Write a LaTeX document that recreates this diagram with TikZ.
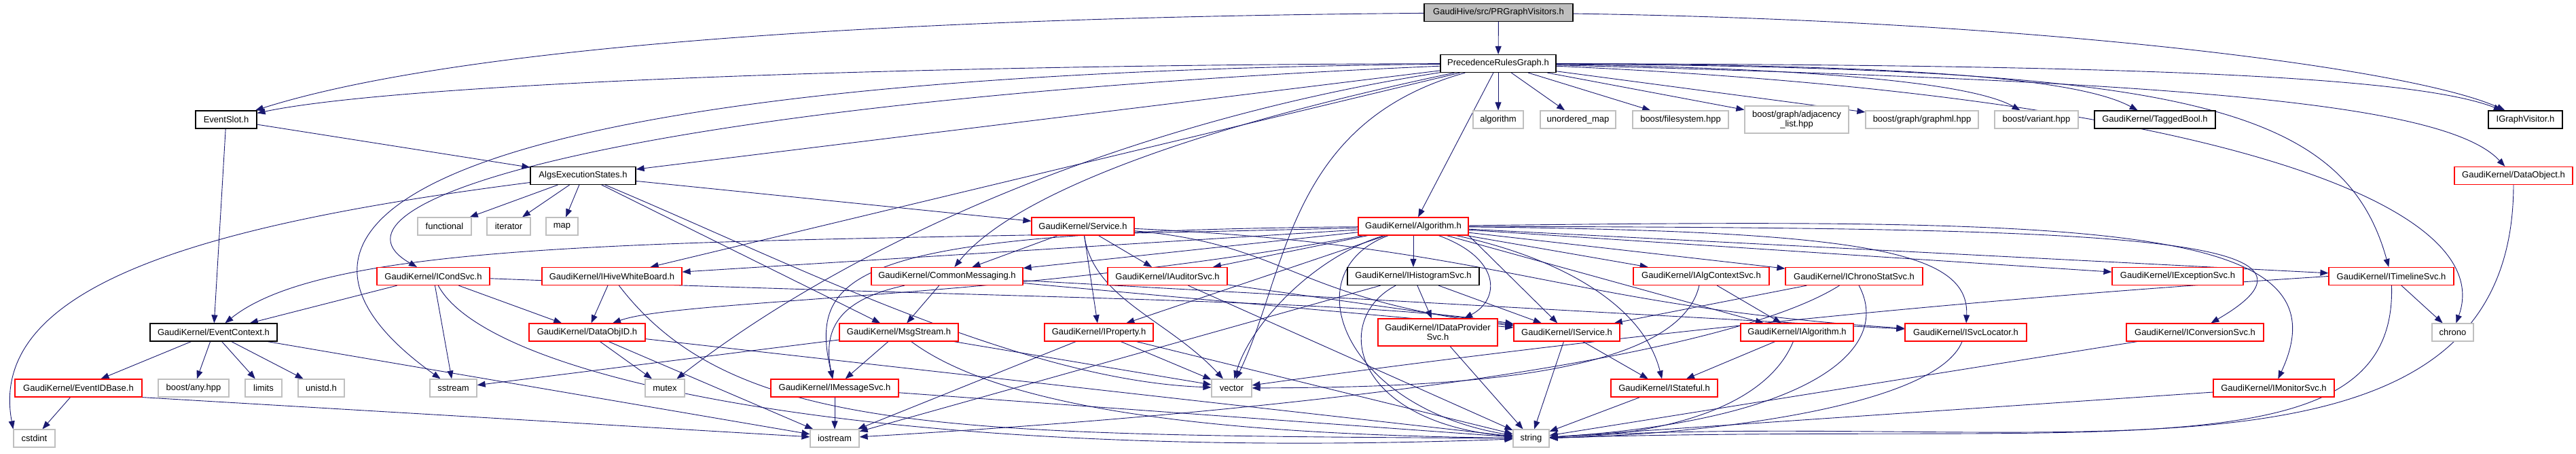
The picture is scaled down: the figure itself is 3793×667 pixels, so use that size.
\documentclass[tikz,border=0pt]{standalone}
\usepackage{fontspec}
\usepackage{tikz}
\usetikzlibrary{arrows.meta}
\newfontfamily\hdrfont{Liberation Sans}
\definecolor{edgeblue}{RGB}{25,25,112}
\definecolor{boxgray}{RGB}{191,191,191}
\pgfdeclarelayer{edges}
\pgfsetlayers{edges,main}

\begin{document}
\begin{tikzpicture}[x=1pt,y=1pt,
    inc/.style={draw=black,line width=1.2pt,fill=white,minimum height=26,inner xsep=2pt,inner ysep=1pt,
      font=\hdrfont\fontsize{13}{14}\selectfont,align=center},
    incred/.style={inc,draw=red},
    sys/.style={inc,draw=boxgray},
    rootinc/.style={inc,fill=boxgray},
    dep/.style={draw=edgeblue,line width=0.9pt,-{Triangle[length=12pt,width=9pt]}}]
  \useasboundingbox (0,0) rectangle (3793,-667);
  \node[rootinc,minimum width=219] (prgv) at (2206.5,-18.5) {GaudiHive/src/PRGraphVisitors.h};
  \node[inc,minimum width=170] (prg) at (2206,-93.5) {PrecedenceRulesGraph.h};
  \node[inc,minimum width=90] (evslot) at (333,-176) {EventSlot.h};
  \node[sys,minimum width=74] (algo) at (2206,-176) {algorithm};
  \node[sys,minimum width=111] (umap) at (2323.5,-176) {unordered\_map};
  \node[sys,minimum width=141] (bfs) at (2474.5,-176) {boost/filesystem.hpp};
  \node[sys,minimum width=153,minimum height=40] (badj) at (2645.5,-176) {boost/graph/adjacency\\\_list.hpp};
  \node[sys,minimum width=166] (bgml) at (2830,-176) {boost/graph/graphml.hpp};
  \node[sys,minimum width=123] (bvar) at (2998.5,-176) {boost/variant.hpp};
  \node[inc,minimum width=178] (tbool) at (3173,-176) {GaudiKernel/TaggedBool.h};
  \node[inc,minimum width=109] (igv) at (3718.5,-176) {IGraphVisitor.h};
  \node[inc,minimum width=155] (aes) at (858.5,-258.5) {AlgsExecutionStates.h};
  \node[incred,minimum width=174] (dobj) at (3701,-258.5) {GaudiKernel/DataObject.h};
  \node[sys,minimum width=79] (func) at (654.5,-333) {functional};
  \node[sys,minimum width=64] (iter) at (749,-333) {iterator};
  \node[sys,minimum width=47] (map) at (827.5,-333) {map};
  \node[incred,minimum width=151] (svc) at (1594.5,-333) {GaudiKernel/Service.h};
  \node[incred,minimum width=162] (alg) at (2081,-333) {GaudiKernel/Algorithm.h};
  \node[incred,minimum width=166] (icond) at (638,-406.5) {GaudiKernel/ICondSvc.h};
  \node[incred,minimum width=206] (ihwb) at (901,-406.5) {GaudiKernel/IHiveWhiteBoard.h};
  \node[incred,minimum width=223] (cmsg) at (1394.5,-406.5) {GaudiKernel/CommonMessaging.h};
  \node[incred,minimum width=176] (iaud) at (1719,-406.5) {GaudiKernel/IAuditorSvc.h};
  \node[inc,minimum width=194] (ihist) at (2081,-406.5) {GaudiKernel/IHistogramSvc.h};
  \node[incred,minimum width=200] (iactx) at (2505,-406.5) {GaudiKernel/IAlgContextSvc.h};
  \node[incred,minimum width=202] (ichrono) at (2730,-406.5) {GaudiKernel/IChronoStatSvc.h};
  \node[incred,minimum width=193] (iexc) at (3206.5,-406.5) {GaudiKernel/IExceptionSvc.h};
  \node[incred,minimum width=184] (itl) at (3521,-406.5) {GaudiKernel/ITimelineSvc.h};
  \node[inc,minimum width=187] (evctx) at (314.5,-489) {GaudiKernel/EventContext.h};
  \node[incred,minimum width=171] (doid) at (864.5,-489) {GaudiKernel/DataObjID.h};
  \node[incred,minimum width=175] (msgs) at (1323.5,-489) {GaudiKernel/MsgStream.h};
  \node[incred,minimum width=160] (iprop) at (1618,-489) {GaudiKernel/IProperty.h};
  \node[incred,minimum width=176,minimum height=40] (idp) at (2117,-489) {GaudiKernel/IDataProvider\\Svc.h};
  \node[incred,minimum width=156] (isvc) at (2307,-489) {GaudiKernel/IService.h};
  \node[incred,minimum width=166] (ialg) at (2646,-489) {GaudiKernel/IAlgorithm.h};
  \node[incred,minimum width=179] (isvcl) at (2894.5,-489) {GaudiKernel/ISvcLocator.h};
  \node[incred,minimum width=202] (iconv) at (3232,-489) {GaudiKernel/IConversionSvc.h};
  \node[sys,minimum width=61] (chrono) at (3611.5,-489) {chrono};
  \node[incred,minimum width=187] (eidb) at (115.5,-571) {GaudiKernel/EventIDBase.h};
  \node[sys,minimum width=104] (bany) at (285,-571) {boost/any.hpp};
  \node[sys,minimum width=54] (limits) at (388,-571) {limits};
  \node[sys,minimum width=68] (unistd) at (473,-571) {unistd.h};
  \node[sys,minimum width=69] (sstr) at (667.5,-571) {sstream};
  \node[sys,minimum width=58] (mutex) at (979,-571) {mutex};
  \node[incred,minimum width=188] (imsg) at (1229,-571) {GaudiKernel/IMessageSvc.h};
  \node[sys,minimum width=59] (vector) at (1813.5,-571) {vector};
  \node[incred,minimum width=157] (istate) at (2450.5,-571) {GaudiKernel/IStateful.h};
  \node[incred,minimum width=178] (imon) at (3348,-571) {GaudiKernel/IMonitorSvc.h};
  \node[sys,minimum width=61] (cstdint) at (50.5,-645) {cstdint};
  \node[sys,minimum width=72] (iostr) at (1229,-645) {iostream};
  \node[sys,minimum width=53] (string) at (2254.5,-645) {string};

  \begin{pgfonlayer}{edges}
  \draw[dep] (prgv) -- (prg);
  \draw[dep] (prgv) .. controls (1400,-25) and (700,-60) .. (evslot);
  \draw[dep] (prgv) .. controls (3000,-30) and (3550,-100) .. (igv);
  \draw[dep] (prg) .. controls (1400,-95) and (600,-120) .. (evslot);
  \draw[dep] (prg) -- (aes);
  \draw[dep] (prg) -- (algo);
  \draw[dep] (prg) -- (umap);
  \draw[dep] (prg) -- (bfs);
  \draw[dep] (prg) -- (badj);
  \draw[dep] (prg) -- (bgml);
  \draw[dep] (prg) .. controls (2650,-100) and (2900,-120) .. (bvar);
  \draw[dep] (prg) .. controls (2750,-95) and (3050,-110) .. (tbool);
  \draw[dep] (prg) .. controls (3100,-95) and (3550,-110) .. (igv);
  \draw[dep] (prg) .. controls (3200,-120) and (3600,-150) .. (dobj);
  \draw[dep] (prg) .. controls (3250,-140) and (3680,-300) .. (chrono);
  \draw[dep] (prg) .. controls (3200,-100) and (3450,-150) .. (itl);
  \draw[dep] (prg) -- (alg);
  \draw[dep] (prg) .. controls (900,-150) and (450,-300) .. (icond);
  \draw[dep] (prg) -- (ihwb);
  \draw[dep] (prg) .. controls (1700,-200) and (1480,-300) .. (cmsg);
  \draw[dep] (prg) .. controls (600,-110) and (330,-330) .. (sstr);
  \draw[dep] (prg) .. controls (1896,-180) and (1896,-400) .. (vector);
  \draw[dep] (prg) .. controls (1650,-180) and (1250,-360) .. (mutex);
  \draw[dep] (evslot) -- (aes);
  \draw[dep] (evslot) -- (evctx);
  \draw[dep] (aes) -- (func);
  \draw[dep] (aes) -- (iter);
  \draw[dep] (aes) -- (map);
  \draw[dep] (aes) -- (svc);
  \draw[dep] (aes) -- (msgs);
  \draw[dep] (aes) .. controls (1150,-380) and (1500,-560) .. (vector);
  \draw[dep] (aes) .. controls (300,-330) and (-20,-420) .. (cstdint.north west);
  \draw[dep] (icond) -- (evctx);
  \draw[dep] (icond) -- (doid);
  \draw[dep] (icond) -- (sstr);
  \draw[dep] (icond) .. controls (720,-560) and (1300,-680) .. (string);
  \draw[dep] (icond) .. controls (1500,-440) and (2000,-440) .. (isvc);
  \draw[dep] (ihwb) -- (doid);
  \draw[dep] (ihwb) .. controls (1080,-640) and (1400,-640) .. (string);
  \draw[dep] (alg) .. controls (1100,-360) and (500,-340) .. (evctx);
  \draw[dep] (alg) -- (ihwb);
  \draw[dep] (alg) -- (cmsg);
  \draw[dep] (alg) -- (iaud);
  \draw[dep] (alg) .. controls (1500,-440) and (1000,-440) .. (doid);
  \draw[dep] (alg) .. controls (1250,-340) and (1190,-400) .. (imsg);
  \draw[dep] (alg) -- (iprop);
  \draw[dep] (alg) -- (ihist);
  \draw[dep] (alg) .. controls (2210,-380) and (2210,-440) .. (idp);
  \draw[dep] (alg.south east) -- (isvc);
  \draw[dep] (alg) -- (iactx);
  \draw[dep] (alg) -- (ichrono);
  \draw[dep] (alg) -- (ialg);
  \draw[dep] (alg) .. controls (2750,-340) and (2900,-370) .. (isvcl);
  \draw[dep] (alg) -- (iexc);
  \draw[dep] (alg) -- (itl);
  \draw[dep] (alg) .. controls (3100,-335) and (3480,-345) .. (iconv);
  \draw[dep] (alg) .. controls (3100,-320) and (3460,-330) .. (imon);
  \draw[dep] (alg) .. controls (2300,-380) and (2420,-450) .. (istate);
  \draw[dep] (alg) .. controls (1930,-380) and (1840,-480) .. (vector);
  \draw[dep] (alg) .. controls (1900,-400) and (1980,-600) .. (string);
  \draw[dep] (svc) -- (cmsg);
  \draw[dep] (svc) -- (iaud);
  \draw[dep] (svc) -- (iprop);
  \draw[dep] (svc) .. controls (1900,-360) and (1900,-440) .. (isvc);
  \draw[dep] (svc) .. controls (2200,-360) and (2300,-450) .. (isvcl);
  \draw[dep] (svc) .. controls (1610,-440) and (1720,-470) .. (vector);
  \draw[dep] (cmsg) -- (msgs);
  \draw[dep] (cmsg) .. controls (1240,-440) and (1210,-480) .. (imsg);
  \draw[dep] (cmsg) -- (isvcl);
  \draw[dep] (cmsg) -- (isvc);
  \draw[dep] (msgs) -- (imsg);
  \draw[dep] (msgs) -- (sstr);
  \draw[dep] (msgs) -- (vector);
  \draw[dep] (msgs) .. controls (1500,-620) and (1900,-640) .. (string);
  \draw[dep] (iprop) -- (iostr);
  \draw[dep] (iprop) -- (vector);
  \draw[dep] (iprop) -- (string);
  \draw[dep] (iaud) -- (isvc);
  \draw[dep] (iaud) -- (string);
  \draw[dep] (ihist) -- (idp);
  \draw[dep] (ihist) -- (isvc);
  \draw[dep] (ihist) -- (iostr);
  \draw[dep] (ihist) .. controls (1960,-470) and (1990,-620) .. (string);
  \draw[dep] (iactx) -- (ialg);
  \draw[dep] (iactx) .. controls (2470,-560) and (2100,-570) .. (vector);
  \draw[dep] (ichrono) -- (isvc);
  \draw[dep] (ichrono) .. controls (2550,-520) and (2000,-600) .. (iostr);
  \draw[dep] (ichrono) .. controls (2790,-520) and (2650,-620) .. (string);
  \draw[dep] (itl) -- (chrono);
  \draw[dep] (itl) .. controls (3530,-700) and (3100,-620) .. (string);
  \draw[dep] (itl.west) .. controls (2900,-440) and (2400,-490) .. (vector);
  \draw[dep] (evctx) -- (eidb);
  \draw[dep] (evctx) -- (bany);
  \draw[dep] (evctx) -- (limits);
  \draw[dep] (evctx) -- (unistd);
  \draw[dep] (evctx) -- (iostr);
  \draw[dep] (eidb) -- (cstdint);
  \draw[dep] (eidb.south east) -- (iostr);
  \draw[dep] (doid) -- (mutex);
  \draw[dep] (doid) -- (iostr);
  \draw[dep] (doid) -- (string);
  \draw[dep] (imsg) -- (iostr);
  \draw[dep] (imsg) -- (string);
  \draw[dep] (idp) -- (string);
  \draw[dep] (isvc) -- (istate);
  \draw[dep] (isvc) -- (string);
  \draw[dep] (ialg) -- (istate);
  \draw[dep] (ialg) .. controls (2600,-600) and (2450,-640) .. (string);
  \draw[dep] (istate) -- (string);
  \draw[dep] (isvcl) .. controls (2850,-600) and (2500,-640) .. (string);
  \draw[dep] (iconv) -- (string);
  \draw[dep] (imon) -- (string);
  \draw[dep] (dobj) .. controls (3700,-760) and (3000,-600) .. (string);
  \end{pgfonlayer}
\end{tikzpicture}
\end{document}
